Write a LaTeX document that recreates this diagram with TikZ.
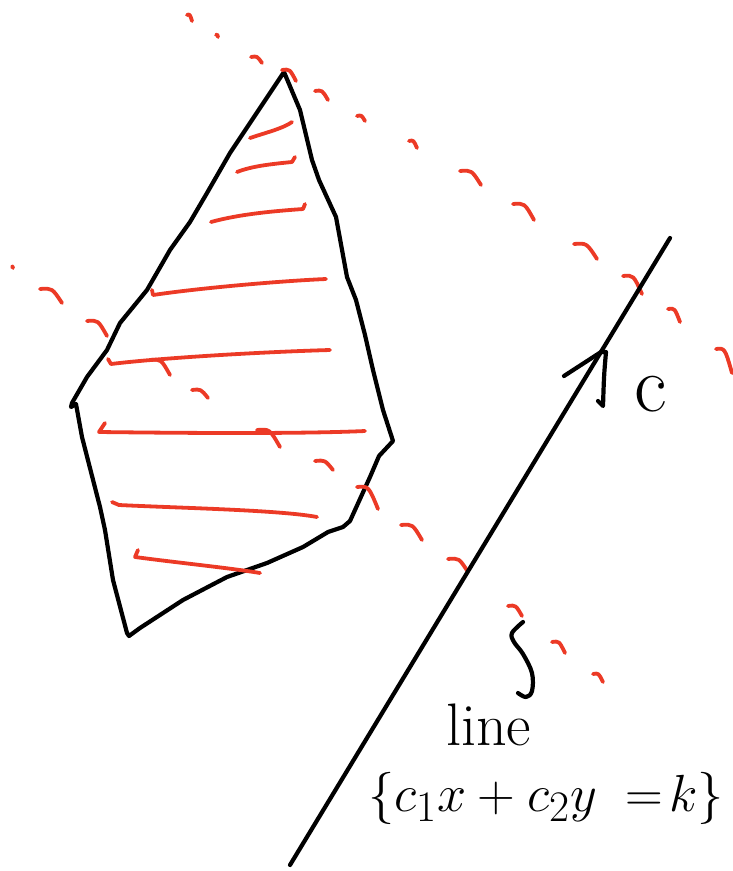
\documentclass[tikz,border=0pt]{standalone}
\usepackage{graphicx}
\usetikzlibrary{calc}
\definecolor{pen}{RGB}{236,58,38}
\tikzset{
  ink/.style={line width=4.2pt,line cap=round,line join=round,black},
  redink/.style={line width=3.8pt,line cap=round,line join=round,pen},
  hand/.style={inner sep=0pt,outer sep=0pt,text=black}
}
\begin{document}
\begin{tikzpicture}[x=1pt,y=-1pt]
\useasboundingbox (0,0) rectangle (732,871);
% polygon
\draw[ink] (284,72) -- (300,110) -- (312,160) -- (319,180) -- (336,217) -- (347,277) -- (356,300) -- (365,335) -- (373,370) -- (383,410) -- (393,441) -- (379,456) -- (370,477) -- (350,521) -- (343,527) -- (328,532) -- (303,547) -- (267,563) -- (227,577) -- (183,600) -- (140,628) -- (129,636) -- (127,633) -- (113,580) -- (105,530) -- (100,507) -- (82,437) -- (76,404) -- (71,407) -- (72,403) -- (87,377) -- (107,350) -- (120,323) -- (147,290) -- (170,250) -- (190,222) -- (207,193) -- (230,153) -- (254,117) -- (272,90) -- cycle;
% hatching
\draw[redink] (250,138) .. controls (268,132) and (284,128) .. (292,122);
\draw[redink] (237,172) .. controls (252,166) and (272,164) .. (292,162) -- (295,157);
\draw[redink] (211,222) .. controls (240,214) and (275,211) .. (303,209) -- (305,204);
\draw[redink] (152,290) -- (153,295) .. controls (200,288) and (280,281) .. (326,279);
\draw[redink] (108,359) -- (111,364) .. controls (160,358) and (260,352) .. (330,350);
\draw[redink] (105,423) -- (99,432) .. controls (180,433) and (300,434) .. (365,431);
\draw[redink] (112,502) -- (119,505) .. controls (180,508) and (280,510) .. (317,517);
\draw[redink] (138,550) -- (135,557) .. controls (180,563) and (230,568) .. (260,573);
% dashed red lines (upper and lower)
\foreach \a/\b/\c/\d in {187/15/192/21, 216/35/218/37, 251/57/262/63, 282/70/296/81, 315/91/328/100, 357/116/365/121, 409/141/417/148, 460/171/481/185, 513/204/534/220, 574/244/597/259, 623/276/642/294, 668/309/680/322, 716/349/732/373,
  12/267/13/268, 40/289/62/303, 87/321/107/336, 150/360/170/375, 192/390/208/398, 257/430/280/447, 315/461/333/470, 357/487/378/509, 401/525/422/540, 448/559/468/572, 508/606/522/616, 552/642/565/653, 593/674/603/682}
  \draw[redink] (\a,\b) .. controls ({\a+0.55*(\c-\a)},{\b-1}) .. (\c,\d);
% line
\coordinate (lineA) at (290,865);
\coordinate (lineB) at (670,238);
\draw[ink] (lineA) -- (lineB);
% arrow c
\coordinate (tip) at (601,352);
\coordinate (armL) at (564,376);
\coordinate (armR) at (603,406);
\draw[ink] (armL) -- (tip) -- (606,352) .. controls (604,375) .. (603,406) -- (598,401);
\node[hand,anchor=base west,font=\fontsize{80}{80}\selectfont] (clab) at (634,411) {c};
% brace
\draw[ink] plot[smooth,tension=0.6] coordinates {(523,622) (512,633) (514,642) (523,654) (532,673) (532,691) (526,697) (518,693)};
\node[hand,anchor=base west,font=\fontsize{60}{60}\selectfont] (linelab) at (446,745) {line};
\node[hand,anchor=base west] (eq) at (368,811) {\scalebox{2.1}{\Huge$\{c_1x+c_2y\;=\!k\}$}};
\end{tikzpicture}
\end{document}
